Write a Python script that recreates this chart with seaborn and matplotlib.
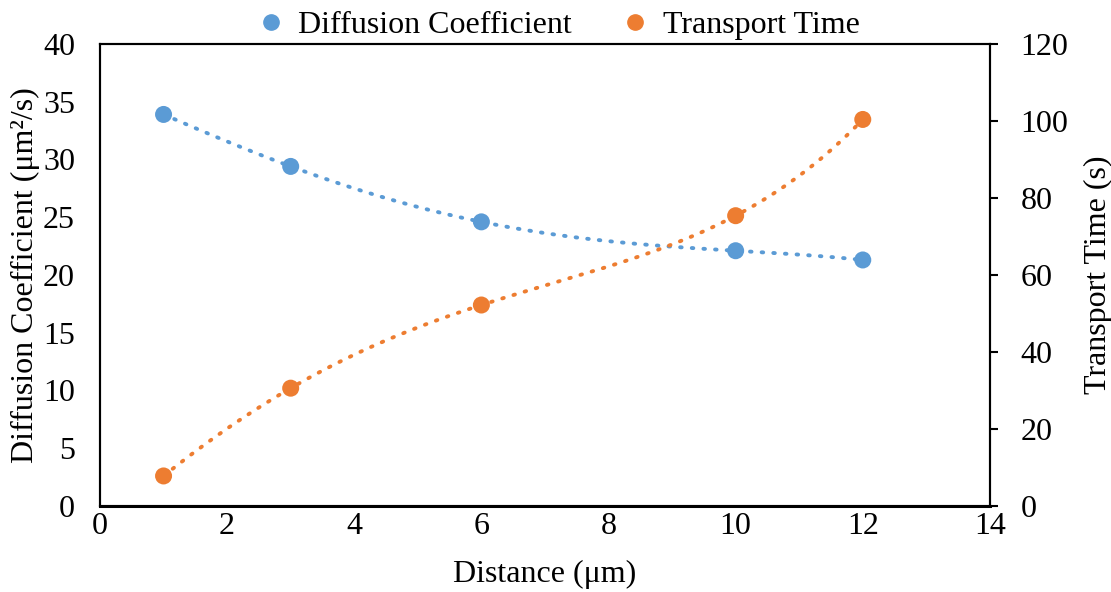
import numpy as np
import pandas as pd
import matplotlib
matplotlib.use("Agg")
import matplotlib.pyplot as plt
import seaborn as sns
from matplotlib.lines import Line2D

distance = [1, 3, 6, 10, 12]
diffusion = [33.9, 29.4, 24.6, 22.1, 21.3]
transport = [7.8, 30.6, 52.2, 75.4, 100.4]
left_ticks = [0, 5, 10, 15, 20, 25, 30, 35, 40]
right_ticks = [0, 20, 40, 60, 80, 100, 120]
x_ticks = [0, 2, 4, 6, 8, 10, 12, 14]

BLUE = "#5B9BD5"
ORANGE = "#ED7D31"
FS = 23

sns.set_theme(style="white")
plt.rcParams["font.family"] = ["Liberation Serif", "DejaVu Serif"]
plt.rcParams["font.size"] = FS
for k in ("text.color", "axes.labelcolor", "xtick.color", "ytick.color", "axes.edgecolor"):
    plt.rcParams[k] = "black"

fig = plt.figure(figsize=(11.11, 5.92), dpi=100)
ax = fig.add_axes([0.09, 0.1453, 0.801, 0.7804])
ax2 = ax.twinx()

df = pd.DataFrame({"distance": distance, "diffusion": diffusion, "transport": transport})

# polynomial trendlines (Excel style)
xs = np.linspace(min(distance), max(distance), 300)
p1 = np.polyfit(distance, diffusion, 4)
p2 = np.polyfit(distance, transport, 4)
trend = pd.DataFrame({"x": xs, "d": np.polyval(p1, xs), "t": np.polyval(p2, xs)})

dot = (0, (0.4, 2.6))
sns.lineplot(data=trend, x="x", y="d", ax=ax, color=BLUE, lw=2.8, linestyle=dot,
             estimator=None, sort=True)
sns.lineplot(data=trend, x="x", y="t", ax=ax2, color=ORANGE, lw=2.8, linestyle=dot,
             estimator=None, sort=True)
for l in ax.lines + ax2.lines:
    l.set_dash_capstyle("round")

sns.scatterplot(data=df, x="distance", y="diffusion", ax=ax, color=BLUE, s=150,
                edgecolor="none", zorder=5)
sns.scatterplot(data=df, x="distance", y="transport", ax=ax2, color=ORANGE, s=150,
                edgecolor="none", zorder=5)

ax.set_xlim(0, 14)
ax.set_ylim(0, 40)
ax2.set_ylim(0, 120)
ax.set_xticks(x_ticks)
ax.set_yticks(left_ticks)
ax2.set_yticks(right_ticks)

ax.set_xlabel("Distance (μm)", fontsize=FS, labelpad=14)
ax.set_ylabel("Diffusion Coefficient (μm²/s)", fontsize=FS, labelpad=2)
ax2.set_ylabel("Transport Time (s)", fontsize=FS, labelpad=11)

ax.tick_params(axis="x", length=0, pad=4, labelsize=FS)
ax.tick_params(axis="y", length=0, pad=18, labelsize=FS)
ax2.tick_params(axis="y", length=6, width=1.5, direction="out", pad=16, labelsize=FS,
                color="black")

for a in (ax, ax2):
    for s in a.spines.values():
        s.set_visible(True)
        s.set_color("black")
        s.set_linewidth(1.5)
ax.spines["bottom"].set_linewidth(2.2)

handles = [
    Line2D([], [], marker="o", color=BLUE, linestyle="none", markersize=11),
    Line2D([], [], marker="o", color=ORANGE, linestyle="none", markersize=11),
]
fig.legend(handles, ["Diffusion Coefficient", "Transport Time"], loc="upper center",
           bbox_to_anchor=(0.5, 1.03), ncol=2, frameon=False, fontsize=FS,
           handletextpad=0.25, columnspacing=1.4, handlelength=1.2)

fig.savefig("out.png", dpi=100)
